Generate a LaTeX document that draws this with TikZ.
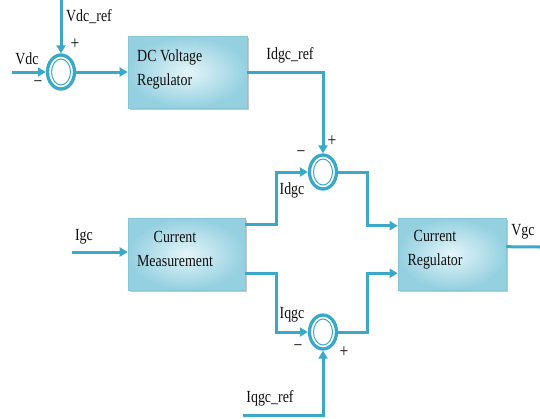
\documentclass[tikz,border=0pt]{standalone}
\usepackage{fontspec}
\setmainfont{Liberation Serif}[FakeStretch=0.82]
\usetikzlibrary{arrows.meta,shadows,shapes.geometric,calc}
\definecolor{lb}{RGB}{58,168,200}
\definecolor{boxout}{RGB}{148,208,224}
\definecolor{boxin}{RGB}{228,245,249}
\definecolor{boxedge}{RGB}{135,198,214}
\definecolor{txt}{RGB}{15,15,15}
\begin{document}
\begin{tikzpicture}[x=1pt,y=-1pt,
  sig/.style={draw=lb, line width=3pt},
  arr/.style={sig, -{Triangle[length=8pt,width=9pt]}},
  sumj/.style={ellipse, draw=lb, line width=3.3pt, minimum width=27pt, minimum height=34pt, inner sep=0pt},
  blk/.style={rectangle, draw=boxedge, line width=0.6pt, inner color=boxin, outer color=boxout,
    drop shadow={shadow xshift=1.5pt, shadow yshift=-2pt, fill=gray!55, opacity=0.8}},
  lbl/.style={text=txt, font=\fontsize{17}{20}\selectfont, inner sep=0pt},
  sgn/.style={text=txt, font=\fontsize{19}{22}\selectfont, inner sep=0pt},
  btxt/.style={text=txt, font=\fontsize{17}{24}\selectfont, inner sep=0pt}
]
\useasboundingbox (0,0) rectangle (540,418);

% blocks
\node[blk, minimum width=119pt, minimum height=72pt] (dcvr) at (187.5,72) {};
\node[blk, minimum width=117pt, minimum height=72pt] (cm) at (186.5,254) {};
\node[blk, minimum width=108pt, minimum height=72pt] (cr) at (452,254) {};
\node[btxt, anchor=west, align=left] (dcvrt) at (137,69) {DC Voltage\\Regulator};
\node[btxt, align=center] (cmt) at (175,249) {Current\\Measurement};
\node[btxt, align=center] (crt) at (435,250) {Current\\Regulator};

% summing junctions
\node[sumj] (s1) at (61,72) {};
\node[sumj] (s2) at (323,172) {};
\node[sumj] (s3) at (323,332) {};
\foreach \s in {s1,s2,s3}{\draw[lb, line width=1pt] (\s) ellipse (9.5pt and 13pt);}

% free ends
\coordinate (vdcin) at (12,72);
\coordinate (vdcref) at (61,0);
\coordinate (igcin) at (72,252);
\coordinate (iqref) at (243,415);
\coordinate (vgcout) at (540,247);
\coordinate (cmA) at ($(cm.north east)+(0,7)$);
\coordinate (cmB) at ($(cm.south east)+(0,-17)$);
\coordinate (crA) at ($(cr.north west)+(0,8)$);
\coordinate (crB) at ($(cr.south west)+(0,-17)$);
\coordinate (crO) at ($(cr.north east)+(0,29)$);

% connectors
\draw[arr] (vdcin) -- (s1.west);
\draw[arr] (vdcref) -- (s1.north);
\draw[arr] (s1.east) -- (dcvr.west);
\draw[arr] (dcvr.east) -| (s2.north);
\draw[arr] (igcin) -- (cm.west |- igcin);
\draw[arr] (cmA) -- ++(31,0) |- (s2.west);
\draw[arr] (cmB) -- ++(31,0) |- (s3.west);
\draw[arr] (s2.east) -- ++(29,0) |- (crA);
\draw[arr] (s3.east) -- ++(29,0) |- (crB);
\draw[arr] (iqref) -| (s3.south);
\draw[sig] (crO) -- (vgcout);

% labels
\node[lbl] (lvdc) at (27,59) {Vdc};
\node[lbl] (lvdcref) at (89,17) {Vdc\_ref};
\node[sgn] (m1) at (38,84) {−};
\node[sgn] (p1) at (75,44) {+};
\node[lbl] (lidref) at (290,55) {Idgc\_ref};
\node[sgn] (p2) at (332,141) {+};
\node[sgn] (m2) at (301,154) {−};
\node[lbl] (lidgc) at (292,190) {Idgc};
\node[lbl] (ligc) at (84,237) {Igc};
\node[lbl] (lvgc) at (523,232) {Vgc};
\node[lbl] (liqgc) at (292,315) {Iqgc};
\node[sgn] (m3) at (298,348) {−};
\node[sgn] (p3) at (344,352) {+};
\node[lbl] (liqref) at (270,398) {Iqgc\_ref};
\end{tikzpicture}
\end{document}
